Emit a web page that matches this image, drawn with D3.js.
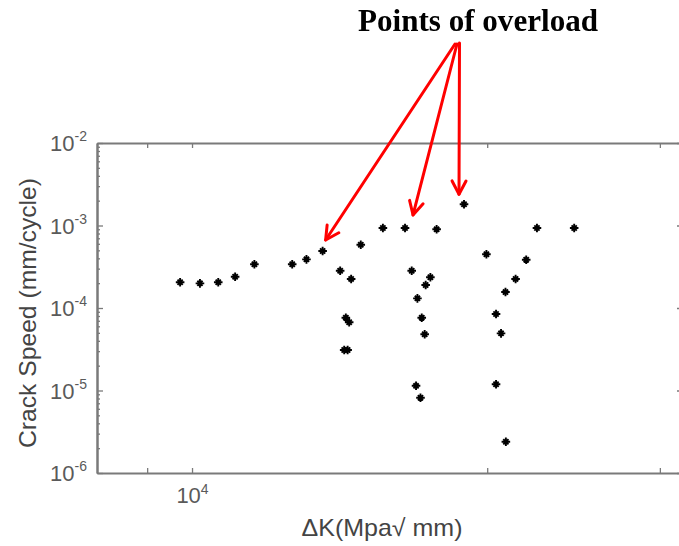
<!DOCTYPE html>
<html><head><meta charset="utf-8">
<script src="https://cdn.jsdelivr.net/npm/d3@7"></script>
<style>body{margin:0;background:#fff}svg{display:block}</style>
</head><body>
<svg id="chart" width="679" height="546"></svg>
<script>
// ---- data ----
const deltaK = [9724, 10188, 10635, 11065, 11577, 12652, 13083, 13589, 14862, 15655, 16490, 17760, 18940,
  14160, 14530, 14350, 14463, 14295, 14411,
  16751, 17501, 17309, 16977, 17150, 17269, 16922, 17099,
  22479, 24532, 19963, 21918, 21379, 20877, 20419, 20660, 20419, 20896];
const crackSpeed = [2.05e-4, 1.99e-4, 2.05e-4, 2.39e-4, 3.39e-4, 3.39e-4, 3.89e-4, 4.91e-4, 5.85e-4, 9.33e-4, 9.33e-4, 8.99e-4, 1.81e-3,
  2.83e-4, 2.25e-4, 7.63e-5, 6.71e-5, 3.10e-5, 3.10e-5,
  2.83e-4, 2.36e-4, 1.90e-4, 1.31e-4, 7.63e-5, 4.80e-5, 1.14e-5, 8.18e-6,
  9.33e-4, 9.33e-4, 4.48e-4, 3.85e-4, 2.25e-4, 1.56e-4, 8.46e-5, 4.93e-5, 1.19e-5, 2.39e-6];
const xTickValues = [9000, 10000, 20000, 30000];
const xTickLabels = ["", "4", "", ""];          // exponent of 10 shown under the tick
const yTickValues = [1e-6, 1e-5, 1e-4, 1e-3, 1e-2];
const yTickLabels = ["-6", "-5", "-4", "-3", "-2"];
const overloadIndex = [7, 10, 12];
const titleText = "Points of overload";
const xLabelText = "\u0394K(Mpa\u221A mm)";
const yLabelText = "Crack Speed (mm/cycle)";

(function () {
// ---- layout ----
const svg = d3.select("#chart");
const pLeft = 97, pRight = 682, pTop = 143, pBottom = 473;
const x = d3.scaleLog().domain([8000, 31600]).range([pLeft, pRight]);
const y = d3.scaleLog().domain([1e-6, 1e-2]).range([pBottom, pTop]);
const axisColor = "#7a7a7a", textColor = "#5a5a5a";

// minor y ticks
const yMinor = [];
for (let e = -6; e < -2; e++) for (let m = 2; m <= 9; m++) yMinor.push(m * Math.pow(10, e));

function styleAxis(g) {
  g.select(".domain").attr("stroke", axisColor).attr("stroke-width", 2);
  g.selectAll(".tick line").attr("stroke", axisColor).attr("stroke-width", 1.3);
}

// left axis major + minor
svg.append("g").attr("transform", `translate(${pLeft},0)`)
  .call(d3.axisLeft(y).tickValues(yMinor).tickSize(-3).tickFormat("").tickSizeOuter(0))
  .call(styleAxis);
const gl = svg.append("g").attr("transform", `translate(${pLeft},0)`)
  .call(d3.axisLeft(y).tickValues(yTickValues).tickSize(-6).tickSizeOuter(0).tickPadding(10))
  .call(styleAxis);
gl.selectAll(".tick text").each(function(d, i) {
  const t = d3.select(this).text("").attr("fill", textColor)
    .attr("font-family", "Liberation Sans, Arial, sans-serif").attr("font-size", 22)
    .attr("dy", "0.35em").attr("text-anchor", "end");
  t.append("tspan").text("10");
  t.append("tspan").attr("font-size", 14).attr("dy", -10).text(yTickLabels[i]);
});

// right axis
svg.append("g").attr("transform", `translate(${pRight},0)`)
  .call(d3.axisRight(y).tickValues(yTickValues).tickSize(-5).tickFormat("").tickSizeOuter(0))
  .call(styleAxis);

// top axis
svg.append("g").attr("transform", `translate(0,${pTop})`)
  .call(d3.axisTop(x).tickValues(xTickValues).tickSize(-5).tickFormat("").tickSizeOuter(0))
  .call(styleAxis);

// bottom axis
const gb = svg.append("g").attr("transform", `translate(0,${pBottom})`)
  .call(d3.axisBottom(x).tickValues(xTickValues).tickSize(-5).tickSizeOuter(0).tickPadding(14))
  .call(styleAxis);
gb.selectAll(".tick text").each(function(d, i) {
  const t = d3.select(this).text("").attr("fill", textColor)
    .attr("font-family", "Liberation Sans, Arial, sans-serif").attr("font-size", 22)
    .attr("dy", "0.71em");
  if (xTickLabels[i]) {
    t.append("tspan").text("10");
    t.append("tspan").attr("font-size", 14).attr("dy", -9).text(xTickLabels[i]);
  }
});

// axis labels
svg.append("text").attr("x", 382).attr("y", 536).attr("text-anchor", "middle")
  .attr("font-family", "Liberation Sans, Arial, sans-serif").attr("font-size", 24)
  .attr("fill", "#444").attr("textLength", 161).attr("lengthAdjust", "spacingAndGlyphs")
  .text(xLabelText);
svg.append("text").attr("transform", "translate(36,313) rotate(-90)").attr("text-anchor", "middle")
  .attr("font-family", "Liberation Sans, Arial, sans-serif").attr("font-size", 24.5)
  .attr("fill", "#444").attr("textLength", 270).attr("lengthAdjust", "spacingAndGlyphs")
  .text(yLabelText);

// points (asterisk markers)
const pts = deltaK.map((k, i) => ({k, v: crackSpeed[i]}));
const r = 4.3, rd = 2.6;
const star = `M${-r},0H${r}M0,${-r}V${r}M${-rd},${-rd}L${rd},${rd}M${-rd},${rd}L${rd},${-rd}`;
svg.append("defs").append("filter").attr("id", "soft")
  .append("feGaussianBlur").attr("stdDeviation", 0.55);
svg.append("g").attr("filter", "url(#soft)").selectAll("path").data(pts).join("path")
  .attr("transform", d => `translate(${x(d.k)},${y(d.v)})`)
  .attr("d", star).attr("stroke", "#000").attr("stroke-width", 1.9).attr("fill", "none");

// title + arrows
svg.append("text").attr("x", 478).attr("y", 31).attr("text-anchor", "middle")
  .attr("font-family", "Liberation Serif, Times New Roman, serif").attr("font-weight", "bold")
  .attr("font-size", 31).attr("fill", "#000").attr("textLength", 240).attr("lengthAdjust", "spacingAndGlyphs")
  .text(titleText);

const arrowStarts = [[455, 44], [457, 44], [459.5, 43]];
const tipOffsets = [[3, -11], [8, -13], [-5, -10]];
const ga = svg.append("g").attr("stroke", "#f00").attr("stroke-width", 3)
  .attr("fill", "none").attr("stroke-linecap", "round").attr("stroke-linejoin", "round");
overloadIndex.forEach((idx, j) => {
  const px = x(deltaK[idx]) + tipOffsets[j][0], py = y(crackSpeed[idx]) + tipOffsets[j][1];
  const [sx, sy] = arrowStarts[j];
  const ang = Math.atan2(py - sy, px - sx), L = 15, a = Math.PI / 6.5;
  ga.append("line").attr("x1", sx).attr("y1", sy).attr("x2", px).attr("y2", py);
  ga.append("path").attr("d",
    `M${px - L * Math.cos(ang - a)},${py - L * Math.sin(ang - a)}L${px},${py}L${px - L * Math.cos(ang + a)},${py - L * Math.sin(ang + a)}`);
});
})();
</script>
</body></html>
